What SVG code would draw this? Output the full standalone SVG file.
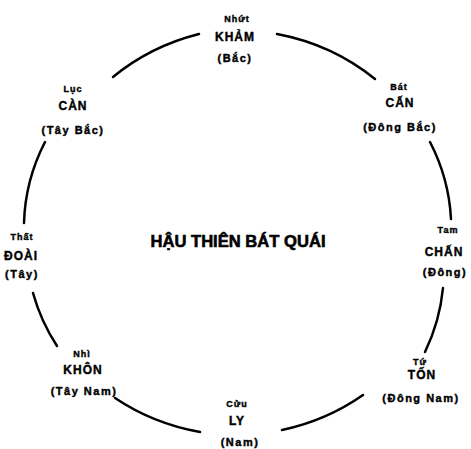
<svg xmlns="http://www.w3.org/2000/svg" width="471" height="449" viewBox="0 0 471 449">
<style>
text{font-family:"Liberation Sans",Arial,sans-serif;font-weight:bold;fill:#000;stroke:#000;stroke-width:0.4;text-anchor:middle}
.n{font-size:9px;letter-spacing:1px}
.m{font-size:12px;letter-spacing:1px}
.d{font-size:11px;letter-spacing:1.5px}
.t{font-size:17px;stroke-width:0.6}
.arc{fill:none;stroke:#000;stroke-width:2.5;stroke-linecap:round}
</style>
<rect width="471" height="449" fill="#fff"/>
<g id="connectors">
<path class="arc" d="M113,77 A214,199 0 0 1 199,34"/>
<path class="arc" d="M277,34 A214,199 0 0 1 375,79"/>
<path class="arc" d="M430,142 A214,199 0 0 1 451,219"/>
<path class="arc" d="M443,288 A214,199 0 0 1 425,352"/>
<path class="arc" d="M363,395 A214,199 0 0 1 282,430"/>
<path class="arc" d="M200,432 A214,199 0 0 1 115,398"/>
<path class="arc" d="M57,346 A214,199 0 0 1 33,293"/>
<path class="arc" d="M24,223 A214,199 0 0 1 45,142"/>
</g>
<g id="title"><text class="t" x="238" y="247" textLength="175" lengthAdjust="spacingAndGlyphs">HẬU THIÊN BÁT QUÁI</text></g>
<g id="kham"><text class="n" x="237" y="22">Nhứt</text><text class="m" x="235" y="41">KHẢM</text><text class="d" x="235" y="62">(Bắc)</text></g>
<g id="can-ne"><text class="n" x="399" y="90">Bát</text><text class="m" x="400" y="107">CẤN</text><text class="d" x="400" y="131">(Đông Bắc)</text></g>
<g id="chan"><text class="n" x="448" y="233">Tam</text><text class="m" x="444" y="256">CHẤN</text><text class="d" x="445" y="276">(Đông)</text></g>
<g id="ton"><text class="n" x="420" y="365">Tứ</text><text class="m" x="422" y="379">TỐN</text><text class="d" x="421" y="402">(Đông Nam)</text></g>
<g id="ly"><text class="n" x="237" y="407">Cửu</text><text class="m" x="237" y="425">LY</text><text class="d" x="240" y="446">(Nam)</text></g>
<g id="khon"><text class="n" x="82" y="357">Nhì</text><text class="m" x="83" y="374">KHÔN</text><text class="d" x="84" y="395">(Tây Nam)</text></g>
<g id="doai"><text class="n" x="22" y="240">Thất</text><text class="m" x="21" y="260">ĐOÀI</text><text class="d" x="22" y="278">(Tây)</text></g>
<g id="can-nw"><text class="n" x="73" y="92">Lục</text><text class="m" x="73" y="110">CÀN</text><text class="d" x="73" y="134">(Tây Bắc)</text></g>
</svg>
